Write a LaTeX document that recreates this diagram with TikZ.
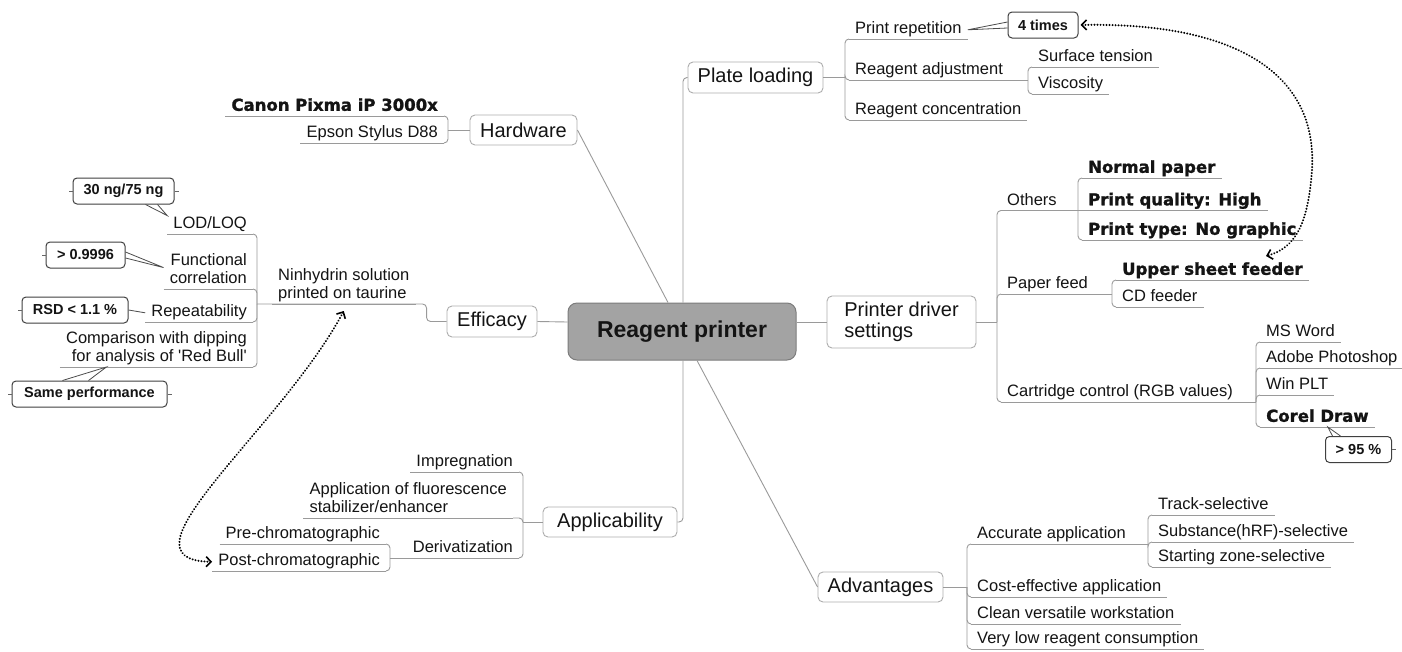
\documentclass[tikz,border=0pt]{standalone}
\usepackage{fontspec}
\setmainfont{Liberation Sans}[Ligatures=TeXOff]
\newfontfamily\heavyfont{DejaVu Sans}[BoldFeatures={FakeBold=1.3}]
\usetikzlibrary{arrows.meta,calc}
\definecolor{lineg}{HTML}{9A9A9A}
\definecolor{boxg}{HTML}{ADADAD}
\definecolor{ctrfill}{HTML}{A3A3A3}
\definecolor{ctrdraw}{HTML}{7C7C7C}
\definecolor{txt}{HTML}{141414}
\tikzset{
  conn/.style={draw=lineg, line width=0.9pt},
  rc/.style={rounded corners=4pt},
  ul/.style={append after command={\pgfextra{\let\ulLN\tikzlastnode} (\ulLN.south west) edge[conn] (\ulLN.south east)}},
  topic/.style={font=\fontsize{16.5}{19.5}\selectfont, text=txt, inner xsep=6pt, inner ysep=1pt, text height=12pt, text depth=4pt, ul},
  topictwo/.style={font=\fontsize{16.5}{18.5}\selectfont, text=txt, inner xsep=6pt, inner ysep=1pt, text depth=4pt, ul},
  heavy/.style={topic, font=\heavyfont\bfseries\fontsize{16.5}{19.5}\selectfont},
  mainbox/.style={draw=boxg, line width=0.9pt, rounded corners=5pt, fill=white, font=\fontsize{20}{21}\selectfont, text=txt, inner sep=0pt},
  ctrbox/.style={draw=ctrdraw, fill=ctrfill, line width=1pt, rounded corners=9pt, inner sep=0pt, font=\bfseries\fontsize{23}{27}\selectfont, text=txt},
  note/.style={draw=black!75, line width=1pt, rounded corners=4pt, fill=white, font=\bfseries\fontsize{14.5}{17}\selectfont, text=txt, inner sep=0pt},
  wedge/.style={draw=black!70, line width=0.8pt},
  tick/.style={draw=black!60, line width=0.8pt},
  dotarrow/.style={draw=black, line width=2.2pt, dash pattern=on 0.01pt off 3pt, line cap=round, >={Straight Barb[length=5pt,width=10pt,line width=1.6pt]}, <->}
}
\begin{document}
\begin{tikzpicture}[x=1pt,y=-1pt]
\fill[white] (0,0) rectangle (1402,651);
\useasboundingbox (0,0) rectangle (1402,651);

% centre and main topics
\node[ctrbox, minimum width=228, minimum height=57] (ctr) at (682,331.5) {Reagent printer};
\node[mainbox, minimum width=107, minimum height=30] (hw) at (523.5,130) {Hardware};
\node[mainbox, minimum width=90, minimum height=31] (eff) at (492,321.5) {Efficacy};
\node[mainbox, minimum width=135, minimum height=31] (plate) at (755.5,77.5) {Plate loading};
\node[mainbox, minimum width=149, minimum height=52, align=left] (pds) at (901.5,322) {Printer driver\\settings};
\node[mainbox, minimum width=134, minimum height=30] (app) at (610,522) {Applicability};
\node[mainbox, minimum width=125, minimum height=30] (adv) at (880.5,587) {Advantages};

\draw[conn, rc] ([xshift=1]ctr.north) |- (plate.west);
\draw[conn, rc] ([xshift=1]ctr.south) |- (app.east);
\draw[conn] ([xshift=-14]ctr.north) -- (hw.east);
\draw[conn] ([xshift=15]ctr.south) -- (adv.west);
\draw[conn] ([yshift=9.5]ctr.east) -- (pds.west);
\draw[conn] ([yshift=9.5]ctr.west) -- (eff.east);

% junctions
\coordinate (jhw) at (448,130);
\coordinate (jeff) at (257,304);
\coordinate (jap) at (523,522);
\coordinate (jder) at (390,558);
\coordinate (jpl) at (845,77.5);
\coordinate (jra) at (1028,80);
\coordinate (jpd) at (997,322);
\coordinate (joth) at (1078,210.5);
\coordinate (jpf) at (1112,294);
\coordinate (jcc) at (1256,402);
\coordinate (jadv) at (967,587);
\coordinate (jacc) at (1148,544);
\coordinate (usfpt) at (1266,256);

% Hardware
\node[heavy, anchor=south east] (canon) at (444,116) {Canon Pixma iP 3000x};
\node[topic, anchor=south east] (epson) at (444,143) {Epson Stylus D88};
\draw[conn] (hw.west) -- (jhw);
\draw[conn, rc] (jhw) |- (canon.south east);
\draw[conn, rc] (jhw) |- (epson.south east);

% Efficacy
\node[topictwo, anchor=south west, align=left] (nin) at (272,304) {Ninhydrin solution\\printed on taurine};
\node[topic, anchor=south east] (lod) at (253,234) {LOD/LOQ};
\node[topictwo, anchor=south east, align=right] (fc) at (253,289) {Functional\\correlation};
\node[topic, anchor=south east] (rep) at (253,322) {Repeatability};
\node[topictwo, anchor=south east, align=right] (cmp) at (253,367) {Comparison with dipping\\for analysis of 'Red Bull'};
\draw[conn, rc] (eff.west) -- ++(-20,0) |- (jeff);
\draw[conn, rc] (jeff) |- (lod.south east);
\draw[conn, rc] (jeff) |- (fc.south east);
\draw[conn, rc] (jeff) |- (rep.south east);
\draw[conn, rc] (jeff) |- (cmp.south east);

\node[note, minimum width=101, minimum height=26] (n30) at (123.5,191) {30 ng/75 ng};
\node[note, minimum width=79, minimum height=26] (n99) at (85.5,255) {> 0.9996};
\node[note, minimum width=106, minimum height=26] (nrsd) at (75,310) {RSD < 1.1 \%};
\node[note, minimum width=155, minimum height=26] (nsame) at (89.5,394) {Same performance};
\draw[tick] (n30.west) -- ++(-4,0);
\draw[tick] (n30.east) -- ++(4,0);
\draw[tick] (n99.west) -- ++(-4,0);
\draw[tick] (nrsd.west) -- ++(-4,0);
\draw[tick] (nsame.west) -- ++(-4,0);
\draw[tick] (nsame.east) -- ++(4,0);
\draw[wedge] ([xshift=22]n30.south) -- (lod.north west) -- ([xshift=34]n30.south);
\draw[wedge] ([yshift=3]n99.east) -- ([yshift=3]fc.west) -- ([yshift=-3]n99.east);
\draw[wedge] (nrsd.east) -- (rep.west);
\draw[wedge] ([xshift=-27]nsame.north) -- ([xshift=-50]cmp.south) -- ([xshift=-1]nsame.north);

% Applicability
\node[topic, anchor=south east] (imp) at (519,472) {Impregnation};
\node[topictwo, anchor=south east, align=left] (afs) at (513,518) {Application of fluorescence\\stabilizer/enhancer};
\node[topic, anchor=south east] (der) at (519,558) {Derivatization};
\node[topic, anchor=south east] (pre) at (386,544) {Pre-chromatographic};
\node[topic, anchor=south east] (post) at (386,571) {Post-chromatographic};
\draw[conn] (app.west) -- (jap);
\draw[conn, rc] (jap) |- (imp.south east);
\draw[conn, rc] (jap) |- (afs.south east);
\draw[conn, rc] (jap) |- (der.south east);
\draw[conn] (der.south west) -- (jder);
\draw[conn, rc] (jder) |- (pre.south east);
\draw[conn, rc] (jder) |- (post.south east);
\draw[dotarrow] ([yshift=-7]nin.south) .. controls (280,430) and (110,560) .. (post.west);

% Plate loading
\node[topic, anchor=south west] (pr) at (849,39) {Print repetition};
\node[topic, anchor=south west] (ra) at (849,80) {Reagent adjustment};
\node[topic, anchor=south west] (rcn) at (849,120) {Reagent concentration};
\node[topic, anchor=south west] (st) at (1032,67) {Surface tension};
\node[topic, anchor=south west] (vi) at (1032,94) {Viscosity};
\draw[conn] (plate.east) -- (jpl);
\draw[conn, rc] (jpl) |- (pr.south west);
\draw[conn, rc] (jpl) |- (ra.south west);
\draw[conn, rc] (jpl) |- (rcn.south west);
\draw[conn] (ra.south east) -- (jra);
\draw[conn, rc] (jra) |- (st.south west);
\draw[conn, rc] (jra) |- (vi.south west);
\node[note, minimum width=70, minimum height=26] (note4) at (1043,25) {4 times};
\draw[wedge] ([yshift=3]note4.west) -- (pr.east) -- ([yshift=-3]note4.west);

% Printer driver settings
\node[topic, anchor=south west] (oth) at (1001,210.5) {Others};
\node[topic, anchor=south west] (pf) at (1001,294) {Paper feed};
\node[topic, anchor=south west] (cc) at (1001,402) {Cartridge control (RGB values)};
\node[heavy, anchor=south west] (np) at (1082,178) {Normal paper};
\node[heavy, anchor=south west] (pq) at (1082,210.5) {Print quality: High};
\node[heavy, anchor=south west] (pt) at (1082,240) {Print type: No graphic};
\node[heavy, anchor=south west] (usf) at (1116,280) {Upper sheet feeder};
\node[topic, anchor=south west] (cdf) at (1116,307) {CD feeder};
\node[topic, anchor=south west] (msw) at (1260,342) {MS Word};
\node[topic, anchor=south west] (aph) at (1260,368) {Adobe Photoshop};
\node[topic, anchor=south west] (wpl) at (1260,395) {Win PLT};
\node[heavy, anchor=south west] (cd) at (1260,427) {Corel Draw};
\draw[conn] (pds.east) -- (jpd);
\draw[conn, rc] (jpd) |- (oth.south west);
\draw[conn, rc] (jpd) |- (pf.south west);
\draw[conn, rc] (jpd) |- (cc.south west);
\draw[conn] (oth.south east) -- (joth);
\draw[conn, rc] (joth) |- (np.south west);
\draw[conn] (joth) -- (pq.south west);
\draw[conn, rc] (joth) |- (pt.south west);
\draw[conn] (pf.south east) -- (jpf);
\draw[conn, rc] (jpf) |- (usf.south west);
\draw[conn, rc] (jpf) |- (cdf.south west);
\draw[conn] (cc.south east) -- (jcc);
\draw[conn, rc] (jcc) |- (msw.south west);
\draw[conn, rc] (jcc) |- (aph.south west);
\draw[conn, rc] (jcc) |- (wpl.south west);
\draw[conn, rc] (jcc) |- (cd.south west);
\node[note, minimum width=66, minimum height=26] (n95) at (1358.5,449.5) {> 95 \%};
\draw[tick] (n95.east) -- ++(4,0);
\draw[wedge] ([xshift=-26]n95.north) -- ([xshift=-47]cd.south east) -- ([xshift=-18]n95.north);
\draw[dotarrow] ([xshift=2]note4.east) .. controls (1230,22) and (1318,70) .. (1312,170) .. controls (1308,225) and (1295,248) .. (usfpt);

% Advantages
\node[topic, anchor=south west] (acc) at (971,544) {Accurate application};
\node[topic, anchor=south west] (cea) at (971,597) {Cost-effective application};
\node[topic, anchor=south west] (cvw) at (971,624) {Clean versatile workstation};
\node[topic, anchor=south west] (vlr) at (971,649) {Very low reagent consumption};
\node[topic, anchor=south west] (trk) at (1152,515) {Track-selective};
\node[topic, anchor=south west] (sub) at (1152,542) {Substance(hRF)-selective};
\node[topic, anchor=south west] (szs) at (1152,567) {Starting zone-selective};
\draw[conn] (adv.east) -- (jadv);
\draw[conn, rc] (jadv) |- (acc.south west);
\draw[conn, rc] (jadv) |- (cea.south west);
\draw[conn, rc] (jadv) |- (cvw.south west);
\draw[conn, rc] (jadv) |- (vlr.south west);
\draw[conn] (acc.south east) -- (jacc);
\draw[conn, rc] (jacc) |- (trk.south west);
\draw[conn, rc] (jacc) |- (sub.south west);
\draw[conn, rc] (jacc) |- (szs.south west);
\end{tikzpicture}
\end{document}
